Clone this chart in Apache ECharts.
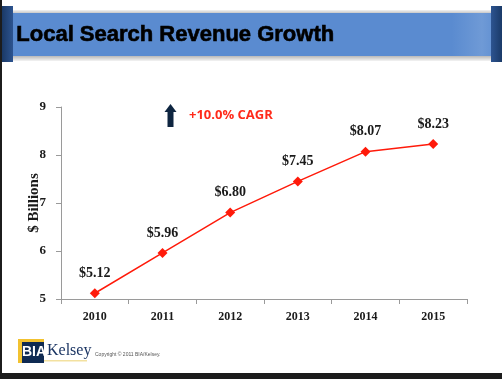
<!DOCTYPE html>
<html>
<head>
<meta charset="utf-8">
<script src="https://cdn.jsdelivr.net/npm/echarts@6/dist/echarts.min.js"></script>
<style>
html,body{margin:0;padding:0;background:#fff;}
#chart{width:502px;height:379px;}
</style>
</head>
<body>
<div id="chart"></div>
<script>
var titleText = 'Local Search Revenue Growth';
var years = ['2010', '2011', '2012', '2013', '2014', '2015'];
var revenue = [5.12, 5.96, 6.80, 7.45, 8.07, 8.23];
var yTicks = [5, 6, 7, 8, 9];
var cagrText = '+10.0% CAGR';
var yAxisTitle = '$ Billions';

var chart = echarts.init(document.getElementById('chart'), null, {renderer: 'canvas'});
var serif = '"Liberation Serif", "Times New Roman", serif';
var sans = '"Liberation Sans", Arial, sans-serif';

chart.setOption({
  animation: false,
  backgroundColor: '#ffffff',
  grid: {left: 61, right: 35, top: 107, bottom: 80, containLabel: false},
  xAxis: {
    type: 'category',
    data: years,
    boundaryGap: true,
    axisLine: {lineStyle: {color: '#9a9a9a', width: 1}},
    axisTick: {show: true, interval: 0, length: 5, lineStyle: {color: '#9a9a9a'}},
    axisLabel: {margin: 12, color: '#1a1a1a', fontFamily: serif, fontWeight: 'bold', fontSize: 12}
  },
  yAxis: {
    type: 'value',
    min: yTicks[0],
    max: yTicks[yTicks.length - 1],
    interval: 1,
    name: yAxisTitle,
    nameLocation: 'middle',
    nameRotate: 90,
    nameGap: 19,
    nameMoveOverlap: false,
    nameTextStyle: {color: '#1a1a1a', fontFamily: serif, fontWeight: 'bold', fontSize: 15},
    axisLine: {show: true, lineStyle: {color: '#9a9a9a', width: 1}},
    axisTick: {show: true, length: 5, lineStyle: {color: '#9a9a9a'}},
    splitLine: {show: false},
    axisLabel: {margin: 15, color: '#1a1a1a', fontFamily: serif, fontWeight: 'bold', fontSize: 13}
  },
  series: [{
    type: 'line',
    data: revenue,
    symbol: 'diamond',
    symbolSize: 10,
    itemStyle: {color: '#ff1a0a'},
    lineStyle: {color: '#ff1a0a', width: 1.5},
    label: {
      show: true,
      position: 'top',
      distance: 8,
      color: '#1a1a1a',
      fontFamily: serif,
      fontWeight: 'bold',
      fontSize: 14,
      formatter: function (p) { return '$' + p.value.toFixed(2); }
    }
  }],
  graphic: [
    {type: 'rect', shape: {x: 0, y: 0, width: 2, height: 379}, style: {fill: '#1c1c1c'}, z: 100},
    {type: 'rect', shape: {x: 0, y: 373, width: 502, height: 6}, style: {fill: '#1c1c1c'}, z: 100},
    {type: 'rect', shape: {x: 0, y: 10, width: 502, height: 3}, style: {fill: {type: 'linear', x: 0, y: 0, x2: 0, y2: 1, colorStops: [{offset: 0, color: '#f2f2f2'}, {offset: 1, color: '#c8c8c8'}]}}, z: 10},
    {type: 'rect', shape: {x: 0, y: 56, width: 502, height: 5}, style: {fill: {type: 'linear', x: 0, y: 0, x2: 0, y2: 1, colorStops: [{offset: 0, color: '#b8b8b8'}, {offset: 1, color: '#f4f4f4'}]}}, z: 10},
    {type: 'rect', shape: {x: 0, y: 13, width: 502, height: 43}, style: {fill: {type: 'linear', x: 0, y: 0, x2: 1, y2: 0, colorStops: [{offset: 0, color: '#4f7fc2'}, {offset: 0.03, color: '#5a8bd0'}, {offset: 0.9, color: '#5a8bd0'}, {offset: 0.96, color: '#6f9ad6'}, {offset: 1, color: '#5a8bd0'}]}}, z: 11},
    {type: 'rect', shape: {x: 0, y: 6, width: 13, height: 56}, style: {fill: {type: 'linear', x: 0, y: 0, x2: 1, y2: 0, colorStops: [{offset: 0, color: '#17345e'}, {offset: 1, color: '#2d5490'}]}}, z: 12},
    {type: 'rect', shape: {x: 491, y: 6, width: 11, height: 56}, style: {fill: {type: 'linear', x: 0, y: 0, x2: 1, y2: 0, colorStops: [{offset: 0, color: '#2d5490'}, {offset: 1, color: '#1a3a68'}]}}, z: 12},
    {type: 'text', left: 16, top: 24, style: {text: titleText, fill: '#000000', font: 'bold 22px ' + sans, stroke: '#000000', lineWidth: 0.6}, z: 13},
    {type: 'polygon', shape: {points: [[170.5, 104], [176.5, 112], [173.5, 112], [173.5, 127], [167.5, 127], [167.5, 112], [164.5, 112]]}, style: {fill: '#0e2540'}, z: 13},
    {type: 'text', left: 189, top: 109, style: {text: cagrText, fill: '#ff2a1a', font: 'bold 13px "Open Sans", ' + sans}, z: 13},
    {type: 'rect', shape: {x: 18, y: 339, width: 26, height: 24}, style: {fill: '#f2c230'}, z: 13},
    {type: 'rect', shape: {x: 22, y: 342, width: 22, height: 21}, style: {fill: '#0f2a52'}, z: 14},
    {type: 'text', left: 22, top: 345, style: {text: 'BIA', fill: '#ffffff', font: 'bold 14px ' + sans}, z: 15},
    {type: 'text', left: 47, top: 343, style: {text: 'Kelsey', fill: '#1b3563', font: '16px ' + serif}, z: 15},
    {type: 'rect', shape: {x: 44, y: 360, width: 43, height: 1.5}, style: {fill: '#f3e1a0'}, z: 13},
    {type: 'text', left: 95, top: 352, style: {text: 'Copyright \u00a9 2011 BIA/Kelsey.', fill: '#555555', font: '5px ' + sans}, z: 15}
  ]
});
</script>
</body>
</html>
